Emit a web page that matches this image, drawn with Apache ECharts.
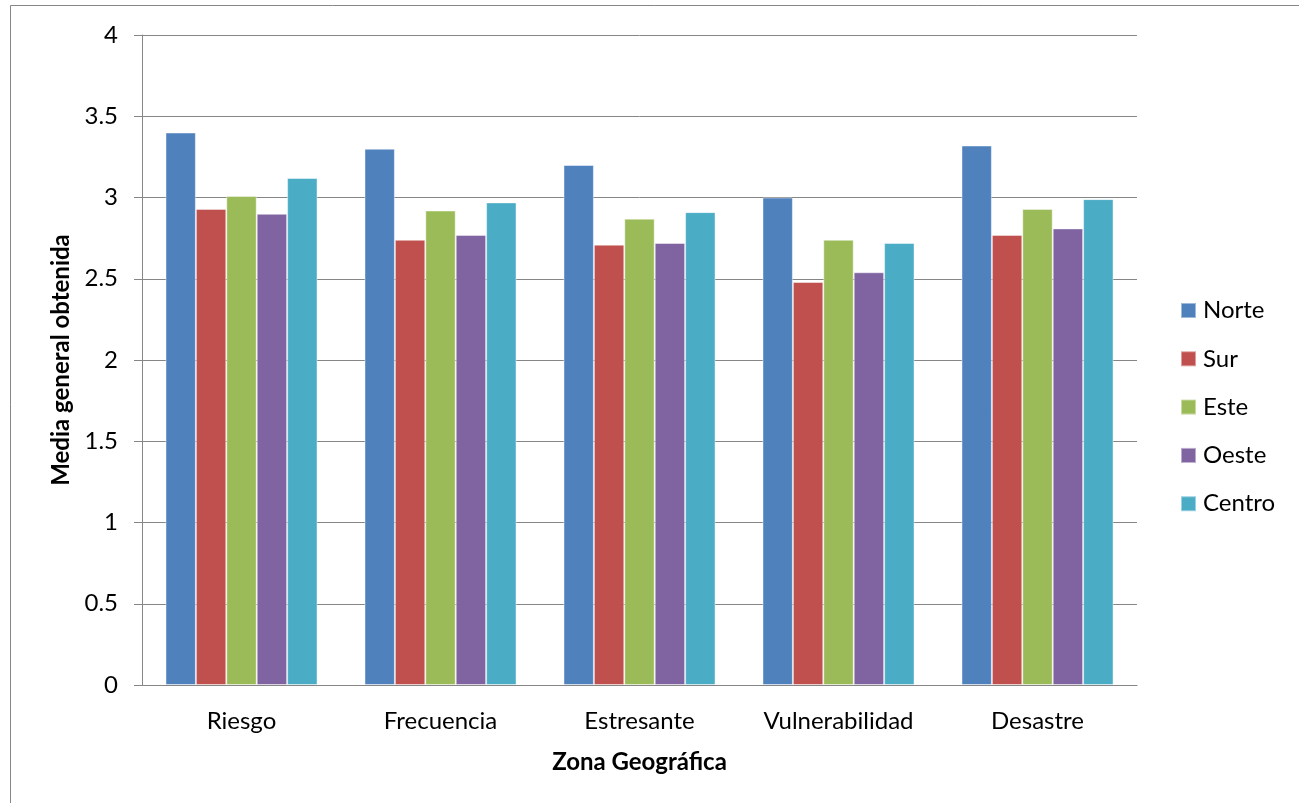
<!DOCTYPE html>
<html>
<head>
<meta charset="utf-8">
<script src="https://cdn.jsdelivr.net/npm/echarts@6/dist/echarts.min.js"></script>
<style>html,body{margin:0;padding:0;background:#fff}#c{width:1299px;height:803px}</style>
</head>
<body>
<div id="c"></div>
<script>
const categories = ['Riesgo', 'Frecuencia', 'Estresante', 'Vulnerabilidad', 'Desastre'];
const seriesNames = ['Norte', 'Sur', 'Este', 'Oeste', 'Centro'];
const norte  = [3.40, 3.30, 3.20, 3.00, 3.32];
const sur    = [2.93, 2.74, 2.71, 2.48, 2.77];
const este   = [3.01, 2.92, 2.87, 2.74, 2.93];
const oeste  = [2.90, 2.77, 2.72, 2.54, 2.81];
const centro = [3.12, 2.97, 2.91, 2.72, 2.99];
const yTicks = [0, 0.5, 1, 1.5, 2, 2.5, 3, 3.5, 4];
const colors = ['#4F81BD', '#C0504D', '#9BBB59', '#8064A2', '#4BACC6'];
const values = [norte, sur, este, oeste, centro];

const FONT = 'Lato, Carlito, "Open Sans", sans-serif';
const FS = 24;
const chart = echarts.init(document.getElementById('c'), null, {renderer: 'canvas'});
chart.setOption({
  animation: false,
  color: colors,
  textStyle: {fontFamily: FONT},
  grid: {left: 142, right: 162, top: 35, bottom: 118, containLabel: false},
  legend: {
    orient: 'vertical', left: 1180, top: 298.5, padding: 0,
    itemWidth: 15, itemHeight: 15, itemGap: 24.3,
    icon: 'rect',
    textStyle: {fontFamily: FONT, fontSize: FS, color: '#000', padding: [0, 0, 0, 2]},
    data: seriesNames
  },
  xAxis: {
    type: 'category',
    data: categories,
    name: 'Zona Geográfica',
    nameLocation: 'middle',
    nameGap: 65,
    nameTextStyle: {fontFamily: FONT, fontSize: FS, fontWeight: 'bold', color: '#000'},
    axisLine: {lineStyle: {color: '#868686', width: 1}},
    axisTick: {show: false},
    axisLabel: {fontFamily: FONT, fontSize: FS, color: '#000', margin: 24}
  },
  yAxis: {
    type: 'value',
    min: 0, max: 4, interval: 0.5,
    name: 'Media general obtenida',
    nameLocation: 'middle',
    nameGap: 69,
    nameTextStyle: {fontFamily: FONT, fontSize: FS, fontWeight: 'bold', color: '#000'},
    axisLine: {show: true, lineStyle: {color: '#868686', width: 1}},
    axisTick: {show: true, length: 8, lineStyle: {color: '#868686'}},
    splitLine: {lineStyle: {color: '#868686', width: 1}},
    axisLabel: {
      fontFamily: FONT, fontSize: FS, color: '#000', margin: 24,
      formatter: v => yTicks.includes(v) ? String(v) : ''
    }
  },
  series: seriesNames.map((n, i) => ({
    name: n,
    type: 'bar',
    data: values[i],
    barGap: '0%',
    barCategoryGap: '23.6%',
    itemStyle: {color: colors[i], borderColor: 'rgba(255,255,255,0.45)', borderWidth: 1}
  })),
  graphic: [
    {type: 'line', shape: {x1: 10.5, y1: 5.5, x2: 10.5, y2: 803}, style: {stroke: '#868686', lineWidth: 1}},
    {type: 'line', shape: {x1: 10.5, y1: 5.5, x2: 1299, y2: 5.5}, style: {stroke: '#868686', lineWidth: 1}}
  ]
});
</script>
</body>
</html>
